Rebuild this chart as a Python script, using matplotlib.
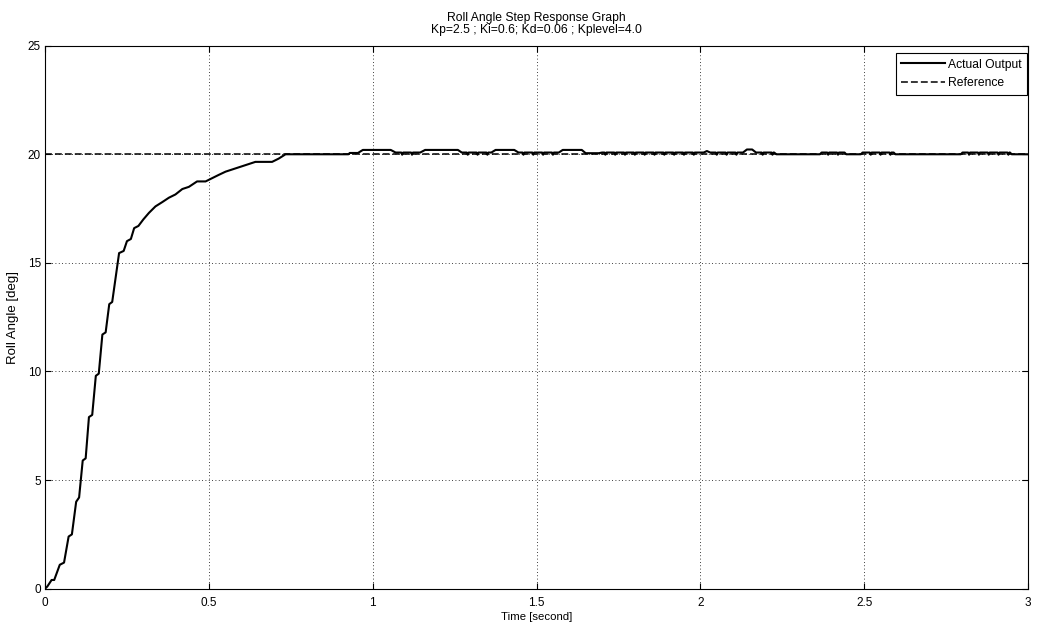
import matplotlib
matplotlib.use("Agg")
import matplotlib.pyplot as plt
import numpy as np

plt.rcParams['font.family'] = ['Liberation Sans', 'DejaVu Sans']

# rising part of the step response
rise_t = [0.0, 0.007, 0.02, 0.028, 0.045, 0.058, 0.072, 0.082, 0.095, 0.104,
          0.115, 0.124, 0.134, 0.144, 0.155, 0.164, 0.175, 0.185, 0.196, 0.205,
          0.226, 0.24, 0.25, 0.262, 0.272, 0.285, 0.3, 0.317, 0.337, 0.358,
          0.378, 0.398, 0.419, 0.439, 0.464, 0.49, 0.51, 0.53, 0.551, 0.581,
          0.612, 0.642, 0.693, 0.713, 0.734]
rise_y = [0.0, 0.1, 0.4, 0.4, 1.1, 1.2, 2.4, 2.5, 4.0, 4.2,
          5.9, 6.0, 7.9, 8.0, 9.8, 9.9, 11.7, 11.8, 13.1, 13.2,
          15.45, 15.55, 16.0, 16.1, 16.6, 16.7, 17.0, 17.3, 17.6, 17.8,
          18.0, 18.15, 18.4, 18.5, 18.75, 18.75, 18.9, 19.05, 19.2, 19.35,
          19.5, 19.65, 19.65, 19.8, 20.0]

# settled part: breakpoints of the output around the 20 deg reference
settle_t = [0.84, 0.926, 0.93, 0.955, 0.97, 1.055, 1.07, 1.145, 1.16, 1.26,
            1.272, 1.362, 1.375, 1.432, 1.445, 1.568, 1.58, 1.638, 1.65, 1.69,
            1.70, 2.01, 2.02, 2.03, 2.13, 2.142, 2.158, 2.17, 2.225, 2.232,
            2.365, 2.37, 2.44, 2.445, 2.49, 2.495, 2.59, 2.595, 2.795, 2.80,
            2.945, 2.95, 3.0]
settle_y = [20.0, 20.0, 20.06, 20.06, 20.2, 20.2, 20.08, 20.08, 20.2, 20.2,
            20.08, 20.08, 20.2, 20.2, 20.08, 20.08, 20.2, 20.2, 20.05, 20.05,
            20.08, 20.08, 20.15, 20.08, 20.08, 20.22, 20.22, 20.08, 20.08, 20.0,
            20.0, 20.08, 20.08, 20.0, 20.0, 20.08, 20.08, 20.0, 20.0, 20.08,
            20.08, 20.0, 20.0]

# short dips of the output while it chatters between quantisation levels
dip_t = [1.09, 1.12, 1.29, 1.32, 1.35, 1.46, 1.49, 1.52, 1.55,
         1.71, 1.74, 1.77, 1.80, 1.83, 1.86, 1.89, 1.92, 1.95, 1.98,
         2.05, 2.08, 2.11, 2.19, 2.22, 2.39, 2.42, 2.52, 2.55, 2.58,
         2.82, 2.85, 2.88, 2.91, 2.94]

ref_t = [0.0, 3.0]
ref_y = [20.0, 20.0]

# merge everything into one output path
pts = list(zip(rise_t, rise_y)) + list(zip(settle_t, settle_y))
for t in dip_t:
    pts += [(t - 0.003, 20.08), (t, 19.98), (t + 0.003, 20.08)]
pts.sort(key=lambda p: p[0])
out_t = np.array([p[0] for p in pts])
out_y = np.array([p[1] for p in pts])

fig = plt.figure(figsize=(10.4, 6.3), dpi=100)
ax = fig.add_axes([0.0433, 0.0656, 0.9452, 0.8619])

ax.plot(out_t, out_y, color='black', linewidth=1.5, label='Actual Output')
ax.plot(ref_t, ref_y, color='black', linewidth=1.1, linestyle=(0, (4.5, 2)), label='Reference')

ax.set_xlim(0, 3)
ax.set_ylim(0, 25)
ax.set_xticks([0, 0.5, 1, 1.5, 2, 2.5, 3])
ax.set_xticklabels(['0', '0.5', '1', '1.5', '2', '2.5', '3'])
ax.set_yticks([0, 5, 10, 15, 20, 25])
ax.grid(True, color='black', linestyle=(0, (1, 3)), linewidth=0.6)
ax.tick_params(direction='in', top=True, right=True, labelsize=8.5, length=4.5)
ax.tick_params(axis='x', pad=6)
ax.tick_params(axis='y', pad=3)
for s in ax.spines.values():
    s.set_linewidth(0.8)

ax.set_xlabel('Time [second]', fontsize=8.2, labelpad=2)
ax.set_ylabel('Roll Angle [deg]', fontsize=9.5, labelpad=6)
ax.set_title('Roll Angle Step Response Graph\nKp=2.5 ; Ki=0.6; Kd=0.06 ; Kplevel=4.0',
             fontsize=8.7, pad=9, linespacing=1.0)

leg = ax.legend(loc='upper right', bbox_to_anchor=(0.999, 0.986), fontsize=8.7,
                fancybox=False, framealpha=1, edgecolor='black', handlelength=3.6,
                borderpad=0.45, labelspacing=0.55, handletextpad=0.25,
                borderaxespad=0.0)
leg.get_frame().set_linewidth(0.8)

fig.savefig('out.png', dpi=100)
